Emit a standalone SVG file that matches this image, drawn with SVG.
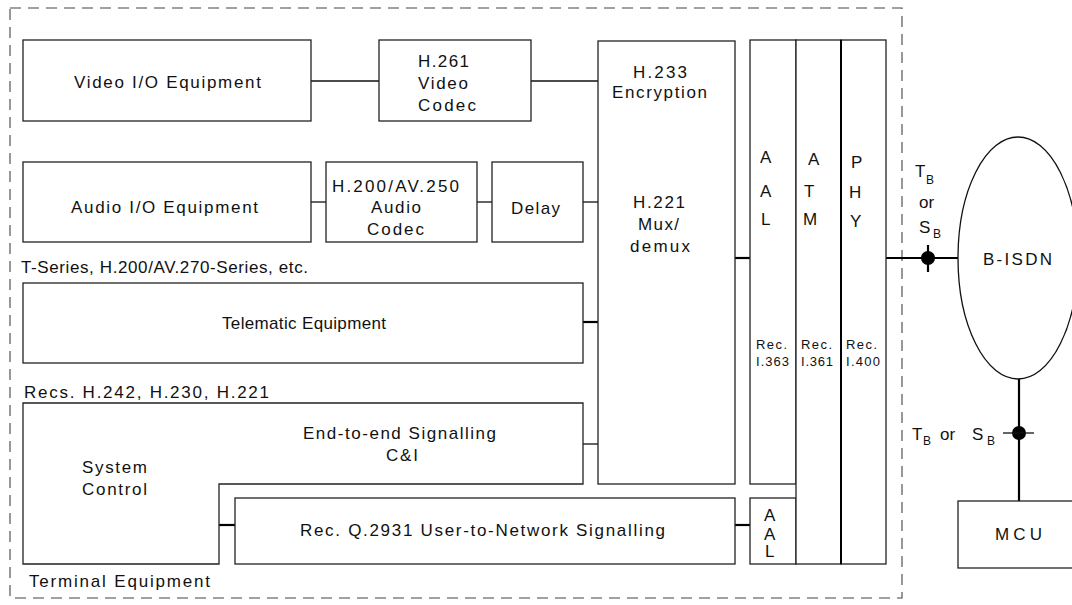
<svg xmlns="http://www.w3.org/2000/svg" width="1072" height="605" viewBox="0 0 1072 605">
<style>
.b{fill:#fff;stroke:#222;stroke-width:1.3}
.c{fill:none;stroke:#111;stroke-width:1.3}
.t{stroke:#000;stroke-width:2.2;fill:none}
text{font-family:"Liberation Sans",Arial,sans-serif;font-size:17px;fill:#111}
.s{font-size:13px}
.sub{font-size:12px}
</style>
<rect width="1072" height="605" fill="#fff"/>
<rect x="10" y="8" width="892" height="590" fill="none" stroke="#444" stroke-width="1.1" stroke-dasharray="11 7"/>

<g id="connectors">
<line class="c" x1="311" y1="81" x2="379" y2="81"/>
<line class="c" x1="531" y1="81" x2="598" y2="81"/>
<line class="c" x1="311" y1="202" x2="326" y2="202"/>
<line class="c" x1="477" y1="202" x2="492" y2="202"/>
<line class="c" x1="583" y1="202" x2="598" y2="202"/>
<line class="t" x1="583" y1="322" x2="598" y2="322"/>
<line class="c" x1="583" y1="444" x2="598" y2="444"/>
<line class="t" x1="219" y1="525" x2="235" y2="525"/>
<line class="t" x1="735" y1="525" x2="750" y2="525"/>
<line class="t" x1="735" y1="258" x2="750" y2="258"/>
<line class="t" x1="886" y1="258" x2="958" y2="258"/>
<line class="t" x1="1019" y1="379" x2="1019" y2="501"/>
<circle cx="928" cy="258" r="7" fill="#000"/>
<line class="t" x1="928" y1="245" x2="928" y2="272"/>
<circle cx="1019" cy="433" r="7" fill="#000"/>
<line class="c" x1="1003" y1="433" x2="1034" y2="433"/>
</g>

<g id="video-io"><rect class="b" x="23" y="40" width="288" height="81"/>
<text x="74" y="88" textLength="187" lengthAdjust="spacing">Video I/O Equipment</text></g>

<g id="video-codec"><rect class="b" x="379" y="40" width="152" height="81"/>
<text x="418" y="67" textLength="51" lengthAdjust="spacing">H.261</text>
<text x="418" y="89" textLength="50" lengthAdjust="spacing">Video</text>
<text x="418" y="111" textLength="58" lengthAdjust="spacing">Codec</text></g>

<g id="audio-io"><rect class="b" x="23" y="162" width="288" height="80"/>
<text x="71" y="213" textLength="187" lengthAdjust="spacing">Audio I/O Equipment</text></g>

<g id="audio-codec"><rect class="b" x="326" y="162" width="151" height="80"/>
<text x="332" y="192" textLength="127" lengthAdjust="spacing">H.200/AV.250</text>
<text x="371" y="213" textLength="50" lengthAdjust="spacing">Audio</text>
<text x="367" y="235" textLength="57" lengthAdjust="spacing">Codec</text></g>

<g id="delay"><rect class="b" x="492" y="162" width="91" height="80"/>
<text x="511" y="214" textLength="49" lengthAdjust="spacing">Delay</text></g>

<g id="mux"><rect class="b" x="598" y="41" width="137" height="443"/>
<text x="633" y="78" textLength="54" lengthAdjust="spacing">H.233</text>
<text x="612" y="98" textLength="95" lengthAdjust="spacing">Encryption</text>
<text x="633" y="208" textLength="52" lengthAdjust="spacing">H.221</text>
<text x="638" y="230" textLength="41" lengthAdjust="spacing">Mux/</text>
<text x="630" y="252" textLength="60" lengthAdjust="spacing">demux</text></g>

<text x="21" y="273" textLength="287" lengthAdjust="spacing">T-Series, H.200/AV.270-Series, etc.</text>
<g id="telematic"><rect class="b" x="23" y="283" width="560" height="80"/>
<text x="222" y="329" textLength="164" lengthAdjust="spacing">Telematic Equipment</text></g>

<text x="24" y="398" textLength="245" lengthAdjust="spacing">Recs. H.242, H.230, H.221</text>
<g id="system-control"><polygon class="b" points="23,403 583,403 583,484 219,484 219,564 23,564"/>
<text x="82" y="473" textLength="65" lengthAdjust="spacing">System</text>
<text x="82" y="495" textLength="65" lengthAdjust="spacing">Control</text>
<text x="303" y="439" textLength="193" lengthAdjust="spacing">End-to-end Signalling</text>
<text x="386" y="461" textLength="32" lengthAdjust="spacing">C&amp;I</text></g>

<g id="q2931"><rect class="b" x="235" y="498" width="500" height="66"/>
<text x="300" y="536" textLength="365" lengthAdjust="spacing">Rec. Q.2931 User-to-Network Signalling</text></g>

<g id="aal"><rect class="b" x="750" y="40" width="46" height="444"/>
<text x="760" y="163">A</text><text x="760" y="197">A</text><text x="761" y="225">L</text>
<text class="s" x="756" y="349" textLength="31" lengthAdjust="spacing">Rec.</text>
<text class="s" x="756" y="366" textLength="33" lengthAdjust="spacing">I.363</text></g>

<g id="aal-small"><rect class="b" x="750" y="498" width="46" height="66"/>
<text x="764" y="521">A</text><text x="764" y="540">A</text><text x="765" y="557">L</text></g>

<g id="atm"><rect class="b" x="796" y="40" width="45" height="524"/>
<text x="808" y="165">A</text><text x="804" y="197">T</text><text x="803" y="225">M</text>
<text class="s" x="801" y="349" textLength="31" lengthAdjust="spacing">Rec.</text>
<text class="s" x="801" y="366" textLength="32" lengthAdjust="spacing">I.361</text></g>

<g id="phy"><rect class="b" x="841" y="40" width="45" height="524"/>
<line x1="841" y1="40" x2="841" y2="564" stroke="#000" stroke-width="2"/>
<text x="851" y="168">P</text><text x="849" y="198">H</text><text x="850" y="227">Y</text>
<text class="s" x="846" y="349" textLength="31" lengthAdjust="spacing">Rec.</text>
<text class="s" x="846" y="366" textLength="34" lengthAdjust="spacing">I.400</text></g>

<g id="ref-point-1">
<text x="915" y="177">T</text><text class="sub" x="926" y="184">B</text>
<text x="919" y="208">or</text>
<text x="919" y="233">S</text><text class="sub" x="933" y="238">B</text></g>

<g id="bisdn"><ellipse cx="1018" cy="258" rx="60" ry="121" fill="#fff" stroke="#111" stroke-width="1.3"/>
<text x="983" y="265" textLength="69" lengthAdjust="spacing">B-ISDN</text></g>

<g id="ref-point-2">
<text x="912" y="440">T</text><text class="sub" x="923" y="445">B</text>
<text x="940" y="440">or</text>
<text x="972" y="440">S</text><text class="sub" x="987" y="445">B</text></g>

<g id="mcu"><rect class="b" x="958" y="501" width="122" height="67"/>
<text x="995" y="540" textLength="47" lengthAdjust="spacing">MCU</text></g>

<text x="29" y="587" textLength="181" lengthAdjust="spacing">Terminal Equipment</text>
</svg>
